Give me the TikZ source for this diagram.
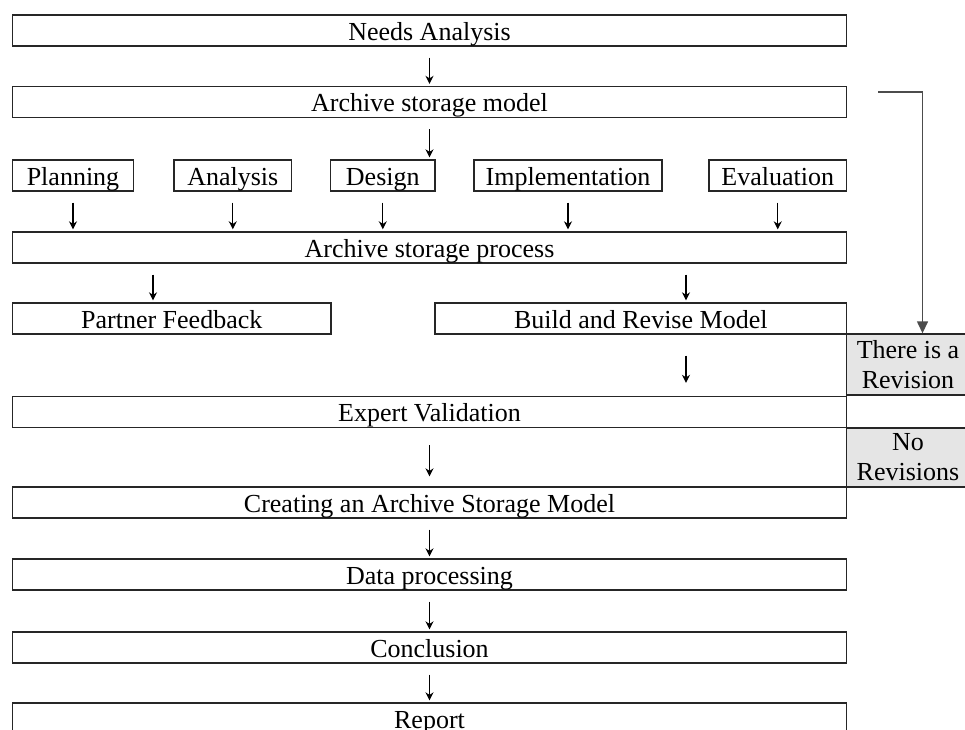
\documentclass[tikz,border=0pt]{standalone}
\usepackage{fontspec}
\setmainfont{Liberation Serif}
\usetikzlibrary{arrows.meta}

\begin{document}
\begin{tikzpicture}[x=1pt, y=-1pt]
    \useasboundingbox (0,0) rectangle (965,729);

    % Estilo base para las cajas
    \tikzstyle{base_style} = [draw=black!85, line width=1.4pt, inner sep=0pt, minimum height=31pt, font=\fontsize{26}{30}\selectfont, align=center]
    \tikzstyle{box_style} = [base_style, text height=21pt, text depth=2pt]
    \tikzstyle{wide_style} = [box_style, minimum width=834pt]

    % Estilo para las cajas grises de revision
    \tikzstyle{note_style} = [base_style, fill=gray!20, minimum width=123pt]

    % Estilo para las flechas
    \tikzstyle{arrow_style} = [-{Stealth[length=8pt, width=8pt]}, line width=1.2pt, shorten <=11pt, shorten >=2pt]
    \tikzstyle{loop_style} = [-{Triangle[length=12pt, width=11pt]}, line width=1.4pt, draw=black!70]

    % Cajas principales
    \node[wide_style] (needs) at (429.5, 30.5) {Needs Analysis};
    \node[wide_style] (model) at (429.5, 102) {Archive storage model};

    % Fila de etapas
    \node[box_style, minimum width=120.6pt] (plan) at (73, 175.5) {Planning};
    \node[box_style, minimum width=117.7pt] (anal) at (232.8, 175.5) {Analysis};
    \node[box_style, minimum width=104.3pt] (design) at (382.8, 175.5) {Design};
    \node[box_style, minimum width=188pt] (impl) at (568, 175.5) {Implementation};
    \node[box_style, minimum width=137.5pt] (eval) at (777.75, 175.5) {Evaluation};

    \node[wide_style] (proc) at (429.5, 247.5) {Archive storage process};
    \node[box_style, minimum width=318.5pt] (partner) at (171.75, 318.5) {Partner Feedback};
    \node[box_style, minimum width=411.5pt] (build) at (640.75, 318.5) {Build and Revise Model};

    \node[wide_style] (expert) at (429.5, 412) {Expert Validation};
    \node[wide_style] (create) at (429.5, 502.5) {Creating an Archive Storage Model};
    \node[wide_style] (data) at (429.5, 574.5) {Data processing};
    \node[wide_style] (concl) at (429.5, 647.5) {Conclusion};
    \node[wide_style] (report) at (429.5, 718.5) {Report};

    % Cajas grises
    \node[note_style, minimum height=61pt] (rev) at (908, 364.5) {There is a\\Revision};
    \node[note_style, minimum height=59pt] (norev) at (908, 457.5) {No\\Revisions};

    % Flechas
    \draw[arrow_style] (needs) -- (model);
    \draw[arrow_style] (model) -- (model.south |- design.north);
    \foreach \n in {plan, anal, design, impl, eval}
        \draw[arrow_style] (\n) -- (\n |- proc.north);
    \draw[arrow_style] ([xshift=-18.75pt]partner.north |- proc.south) -- ([xshift=-18.75pt]partner.north);
    \draw[arrow_style] ([xshift=45.25pt]build.north |- proc.south) -- ([xshift=45.25pt]build.north);
    \draw[arrow_style, shorten <=21pt, shorten >=13pt] ([xshift=45.25pt]build.south) -- ([xshift=45.25pt]build.south |- expert.north);
    \draw[arrow_style, shorten <=17pt, shorten >=10pt] (expert) -- (create);
    \draw[arrow_style] (create) -- (data);
    \draw[arrow_style] (data) -- (concl);
    \draw[arrow_style] (concl) -- (report);

    % Flecha de revision
    \coordinate (loop_start) at (878, 92);
    \coordinate (loop_corner) at (922.5, 92);
    \draw[loop_style] (loop_start) -- (loop_corner) -- (loop_corner |- rev.north);

\end{tikzpicture}
\end{document}
